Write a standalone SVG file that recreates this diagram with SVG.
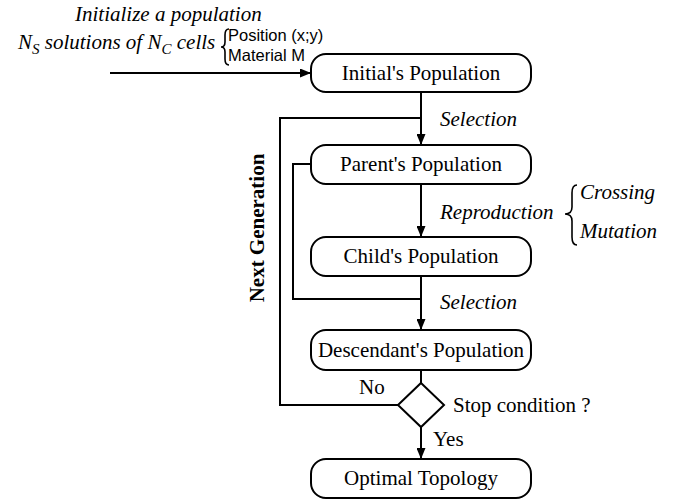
<svg xmlns="http://www.w3.org/2000/svg" width="678" height="502" viewBox="0 0 678 502">
<defs>
<marker id="arr" viewBox="0 0 11 9" refX="11" refY="4.5" markerWidth="11" markerHeight="9" markerUnits="userSpaceOnUse" orient="auto">
<path d="M0,0 L11,4.5 L0,9 z" fill="#000"/>
</marker>
<style>
.box{fill:#fff;stroke:#000;stroke-width:2}
.ln{fill:none;stroke:#000;stroke-width:2}
.br{fill:none;stroke:#000;stroke-width:1.6}
.t{font-family:'Liberation Serif','Times New Roman','DejaVu Serif',serif;font-size:21px;fill:#000;text-anchor:middle}
.i{font-family:'Liberation Serif','Times New Roman','DejaVu Serif',serif;font-size:21px;font-style:italic;fill:#000}
.s{font-family:'Liberation Sans',Arial,sans-serif;font-size:16.5px;fill:#000}
.r{font-family:'Liberation Serif','Times New Roman','DejaVu Serif',serif;font-size:21px;fill:#000}
.b{font-family:'Liberation Serif','Times New Roman','DejaVu Serif',serif;font-size:21px;font-weight:bold;fill:#000;text-anchor:middle}
</style>
</defs>
<rect width="678" height="502" fill="#fff"/>
<g id="connectors">
<line class="ln" x1="110" y1="73" x2="311" y2="73" marker-end="url(#arr)"/>
<line class="ln" x1="421" y1="92" x2="421" y2="145" marker-end="url(#arr)"/>
<line class="ln" x1="421" y1="184" x2="421" y2="237" marker-end="url(#arr)"/>
<line class="ln" x1="421" y1="276" x2="421" y2="330" marker-end="url(#arr)"/>
<line class="ln" x1="421" y1="370" x2="421" y2="383"/>
<line class="ln" x1="421" y1="427" x2="421" y2="459" marker-end="url(#arr)"/>
<polyline class="ln" points="398,405 280,405 280,118 421,118"/>
<polyline class="ln" points="311,164 293,164 293,299 421,299"/>
</g>
<g id="input-label">
<text class="i" x="75" y="21">Initialize a population</text>
<text class="i" x="18" y="49">N<tspan font-size="15" dy="5">S</tspan><tspan dy="-5"> solutions of N</tspan><tspan font-size="15" dy="5">C</tspan><tspan dy="-5"> cells</tspan></text>
<path class="br" d="M229,29 Q225,29 225,35 L225,42 Q225,47 221,47 Q225,47 225,52 L225,59 Q225,65 229,65"/>
<text class="s" x="228" y="41">Position (x;y)</text>
<text class="s" x="228" y="61">Material M</text>
</g>
<g id="initial">
<rect class="box" x="311" y="54" width="220" height="38" rx="15"/>
<text class="t" x="421" y="80">Initial's Population</text>
</g>
<text class="i" x="440" y="126">Selection</text>
<g id="parent">
<rect class="box" x="311" y="145" width="220" height="39" rx="15"/>
<text class="t" x="421" y="171">Parent's Population</text>
</g>
<g id="reproduction-label">
<text class="i" x="440" y="219">Reproduction</text>
<path class="br" d="M577,185 Q572,185 572,193 L572,207 Q572,214 565,214 Q572,214 572,221 L572,237 Q572,245 577,245"/>
<text class="i" x="580" y="199">Crossing</text>
<text class="i" x="580" y="238">Mutation</text>
</g>
<g id="child">
<rect class="box" x="311" y="237" width="220" height="39" rx="15"/>
<text class="t" x="421" y="263">Child's Population</text>
</g>
<text class="i" x="440" y="309">Selection</text>
<g id="descendant">
<rect class="box" x="311" y="330" width="220" height="40" rx="15"/>
<text class="t" x="421" y="357">Descendant's Population</text>
</g>
<g id="stop">
<polygon class="box" points="421,383 444,405 421,427 398,405"/>
<text class="r" x="453" y="412">Stop condition ?</text>
<text class="r" x="359" y="394">No</text>
<text class="r" x="433" y="446">Yes</text>
</g>
<g id="optimal">
<rect class="box" x="311" y="459" width="220" height="39" rx="15"/>
<text class="t" x="421" y="485">Optimal Topology</text>
</g>
<text class="b" x="264" y="228" transform="rotate(-90 264 228)">Next Generation</text>
</svg>
